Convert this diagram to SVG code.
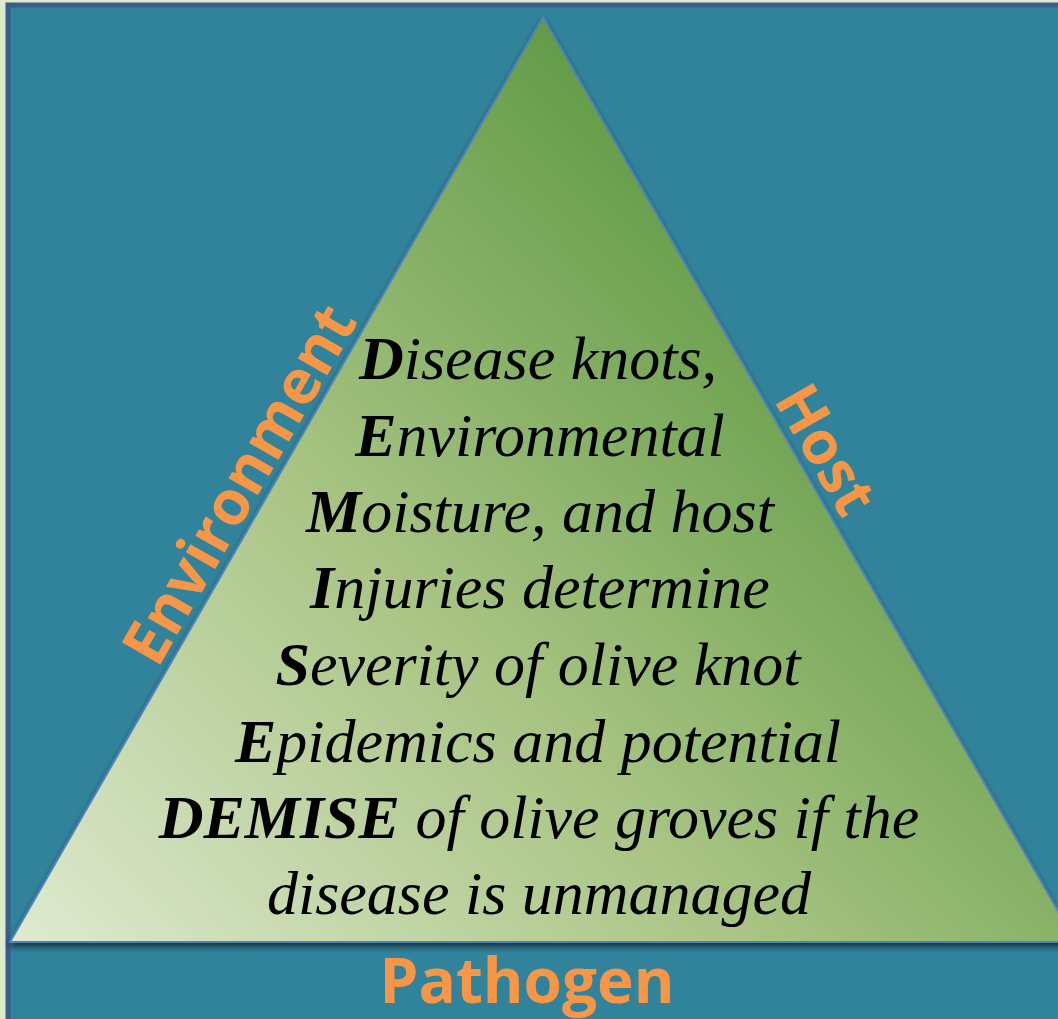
<svg xmlns="http://www.w3.org/2000/svg" width="1058" height="1019" viewBox="0 0 1058 1019">
<defs>
<linearGradient id="tri" x1="10" y1="942" x2="760" y2="200" gradientUnits="userSpaceOnUse">
<stop offset="0" stop-color="#dfead0"/>
<stop offset="0.5" stop-color="#a9c484"/>
<stop offset="1" stop-color="#5f9a44"/>
</linearGradient>
<filter id="sh" x="-10%" y="-10%" width="120%" height="120%">
<feGaussianBlur in="SourceAlpha" stdDeviation="3"/>
<feOffset dx="0" dy="4" result="b"/>
<feComponentTransfer><feFuncA type="linear" slope="0.6"/></feComponentTransfer>
<feMerge><feMergeNode/><feMergeNode in="SourceGraphic"/></feMerge>
</filter>
<style>
.lbl{font-family:"Open Sans","Noto Sans",sans-serif;font-weight:700;fill:#f79646;}
.body{font-family:"Liberation Serif","DejaVu Serif",serif;font-style:italic;font-size:62px;fill:#000;text-anchor:middle;}
.b{font-weight:bold;}
</style>
</defs>
<rect x="0" y="0" width="1058" height="1019" fill="#deebcf"/>
<rect x="8" y="5" width="1060" height="1030" fill="#31839b" stroke="#3a5d8c" stroke-width="5"/>
<g id="triangle" filter="url(#sh)">
<polygon points="543,17 10,942 1076,942" fill="url(#tri)" stroke="#4f81bd" stroke-width="2"/>
</g>
<g id="body-text" class="body">
<text x="538" y="379"><tspan class="b">D</tspan>isease knots,</text>
<text x="540" y="456"><tspan class="b">E</tspan>nvironmental</text>
<text x="540" y="532"><tspan class="b">M</tspan>oisture, and host</text>
<text x="540" y="608"><tspan class="b">I</tspan>njuries determine</text>
<text x="538" y="685"><tspan class="b">S</tspan>everity of olive knot</text>
<text x="538" y="762"><tspan class="b">E</tspan>pidemics and potential</text>
<text x="539" y="838"><tspan class="b">DEMISE</tspan> of olive groves if the</text>
<text x="539" y="914">disease is unmanaged</text>
</g>
<g id="environment">
<text class="lbl" font-size="62" text-anchor="middle" transform="translate(258,495) rotate(-60)">Environment</text>
</g>
<g id="host">
<text class="lbl" font-size="60" text-anchor="middle" transform="translate(808,460) rotate(60)">Host</text>
</g>
<g id="pathogen">
<text class="lbl" font-size="62" x="527" y="1003" text-anchor="middle">Pathogen</text>
</g>
</svg>
